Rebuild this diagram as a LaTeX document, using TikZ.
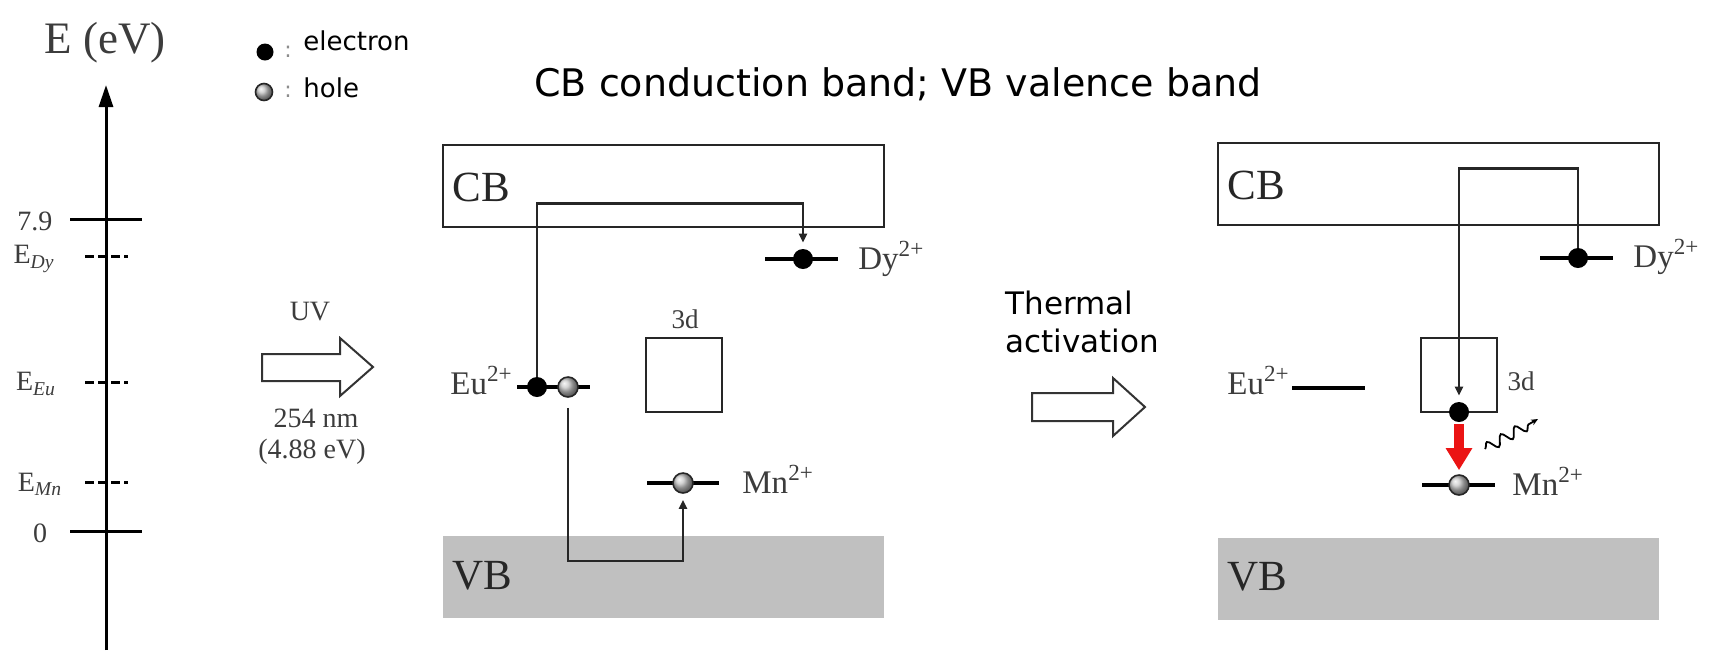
\documentclass[tikz,border=0pt]{standalone}
\usepackage{fontspec}
\setmainfont{Liberation Serif}
\newfontfamily\sansf{DejaVu Sans}
\usetikzlibrary{arrows.meta,decorations.pathmorphing}
\definecolor{vbgray}{RGB}{192,192,192}
\definecolor{labgray}{RGB}{60,60,60}
\definecolor{arrred}{RGB}{235,20,20}
\begin{document}
\begin{tikzpicture}[x=0.5pt,y=-0.5pt,
  axisline/.style={line width=1.5pt,-{Triangle[length=11pt,width=7pt]}},
  tickline/.style={line width=1.5pt},
  dashtick/.style={line width=1.5pt,dash pattern=on 4.5pt off 2pt},
  bandbox/.style={line width=1pt,draw=black!85},
  vbbox/.style={fill=vbgray,draw=none},
  levelline/.style={line width=2pt},
  elec/.style={circle,fill=black,inner sep=0pt,minimum size=10pt},
  holeball/.style={circle,draw=black!85,line width=0.8pt,ball color=gray!45,inner sep=0pt,minimum size=10pt},
  conn/.style={line width=1.3pt,draw=black!85,-{Triangle[length=4.5pt,width=4pt]}},
  bigarrow/.style={line width=1pt,draw=black!80,fill=white},
  redarr/.style={line width=5pt,draw=arrred,-{Triangle[length=11pt,width=12.5pt]}},
  wavy/.style={line width=0.9pt,decorate,decoration={snake,amplitude=2.6pt,segment length=8pt,post length=3pt},-{Stealth[length=3.5pt,width=3pt]}},
  axlab/.style={font=\fontsize{14}{16}\selectfont,text=labgray,inner sep=0pt},
  ionlab/.style={font=\fontsize{16.5}{18}\selectfont,text=labgray,inner sep=0pt},
  bandlab/.style={font=\fontsize{21.5}{24}\selectfont,text=black!85,inner sep=0pt},
  smalllab/.style={font=\fontsize{13.5}{15}\selectfont,text=labgray,inner sep=0pt},
  sanslab/.style={font=\sansf\fontsize{13}{15}\selectfont,inner sep=0pt},
  colonlab/.style={font=\sansf\fontsize{11}{12}\selectfont,text=black!45,inner sep=0pt},
]
\useasboundingbox (0,0) rectangle (1717,650);

% ---------------- energy axis ----------------
\coordinate (axbot) at (106,650);
\coordinate (axtop) at (106,85);
\draw[axisline] (axbot) -- (axtop);
\node[font=\fontsize{22.5}{25}\selectfont,text=labgray,inner sep=0pt,anchor=base] (ev) at (105,53) {E (eV)};
\draw[tickline] (70,219) -- (142,219);
\draw[dashtick] (85,256) -- (128,256);
\draw[dashtick] (85,382) -- (128,382);
\draw[dashtick] (85,482) -- (128,482);
\draw[tickline] (70,531) -- (142,531);
\node[axlab] (l79) at (35,221) {7.9};
\node[axlab] (ldy) at (34,259) {E\textsubscript{\textit{Dy}}};
\node[axlab] (leu) at (36,384) {E\textsubscript{\textit{Eu}}};
\node[axlab] (lmn) at (40,484) {E\textsubscript{\textit{Mn}}};
\node[axlab] (l0) at (40,533) {0};

% ---------------- legend ----------------
\node[elec,minimum size=8.5pt] (legE) at (265,52) {};
\node[holeball,minimum size=8.5pt] (legH) at (264,92) {};
\node[colonlab] (c1) at (288,52) {:};
\node[colonlab] (c2) at (288,92) {:};
\node[sanslab,anchor=base west] (tE) at (303,50) {electron};
\node[sanslab,anchor=base west] (tH) at (303,97) {hole};

% ---------------- title ----------------
\node[font=\sansf\fontsize{19}{22}\selectfont,inner sep=0pt,anchor=base] (title) at (898,96) {CB conduction band; VB valence band};

% ---------------- UV arrow ----------------
\draw[bigarrow] (262,354) -- (340,354) -- (340,338) -- (373,367) -- (340,396) -- (340,381) -- (262,381) -- cycle;
\node[axlab,anchor=base] (uv) at (310,320) {UV};
\node[axlab,anchor=base] (nm) at (316,427) {254 nm};
\node[axlab,anchor=base] (evv) at (312,458) {(4.88 eV)};

% ---------------- middle panel ----------------
\draw[bandbox] (443,145) rectangle (884,227);
\fill[vbgray] (443,536) rectangle (884,618);
\node[bandlab,anchor=base west] (cb1) at (452,201) {CB};
\node[bandlab,anchor=base west] (vb1) at (452,589) {VB};
\draw[bandbox] (646,338) rectangle (722,412);
\node[smalllab] (d1) at (685,319) {3d};

\draw[levelline] (765,259) -- (838,259);
\draw[levelline] (517,387) -- (590,387);
\draw[levelline] (647,483) -- (719,483);
\node[elec] (dyE) at (803,259) {};
\node[elec] (euE) at (537,387) {};
\node[holeball] (euH) at (568,387) {};
\node[holeball] (mnH) at (683,483) {};
\node[ionlab,anchor=base west] (dyL) at (858,269) {Dy\textsuperscript{2+}};
\node[ionlab,anchor=base east] (euL) at (513,394) {Eu\textsuperscript{2+}};
\node[ionlab,anchor=base west] (mnL) at (742,493) {Mn\textsuperscript{2+}};

\draw[conn,shorten >=3pt] (euE.north) -- ++(0,-173) -| (dyE.north);
\draw[conn,shorten <=5pt,shorten >=3pt] (euH.south) -- ++(0,163) -| (mnH.south);

% ---------------- thermal arrow ----------------
\node[font=\sansf\fontsize{15.5}{19}\selectfont,inner sep=0pt,anchor=north west,align=left] (therm) at (1005,291) {Thermal\\activation};
\draw[bigarrow] (1032,393) -- (1113,393) -- (1113,378) -- (1145,407) -- (1113,436) -- (1113,421) -- (1032,421) -- cycle;

% ---------------- right panel ----------------
\draw[bandbox] (1218,143) rectangle (1659,225);
\fill[vbgray] (1218,538) rectangle (1659,620);
\node[bandlab,anchor=base west] (cb2) at (1227,199) {CB};
\node[bandlab,anchor=base west] (vb2) at (1227,590) {VB};
\draw[bandbox] (1421,338) rectangle (1497,412);
\node[smalllab] (d2) at (1521,381) {3d};

\draw[levelline] (1540,258) -- (1613,258);
\draw[levelline] (1292,388) -- (1365,388);
\draw[levelline] (1422,485) -- (1495,485);
\node[elec] (dyE2) at (1578,258) {};
\node[elec] (e3d) at (1459,412) {};
\node[holeball] (mnH2) at (1459,485) {};
\node[ionlab,anchor=base west] (dyL2) at (1633,267) {Dy\textsuperscript{2+}};
\node[ionlab,anchor=base east] (euL2) at (1290,394) {Eu\textsuperscript{2+}};
\node[ionlab,anchor=base west] (mnL2) at (1512,495) {Mn\textsuperscript{2+}};

\draw[conn,shorten >=3pt] (dyE2.north) -- ++(0,-79) -| (e3d.north);
\draw[redarr,shorten <=1pt,shorten >=2pt] (e3d.south) -- (mnH2.north);
\coordinate (w1) at (1485,449);
\coordinate (w2) at (1538,419);
\draw[wavy] (w1) -- (w2);
\end{tikzpicture}
\end{document}
